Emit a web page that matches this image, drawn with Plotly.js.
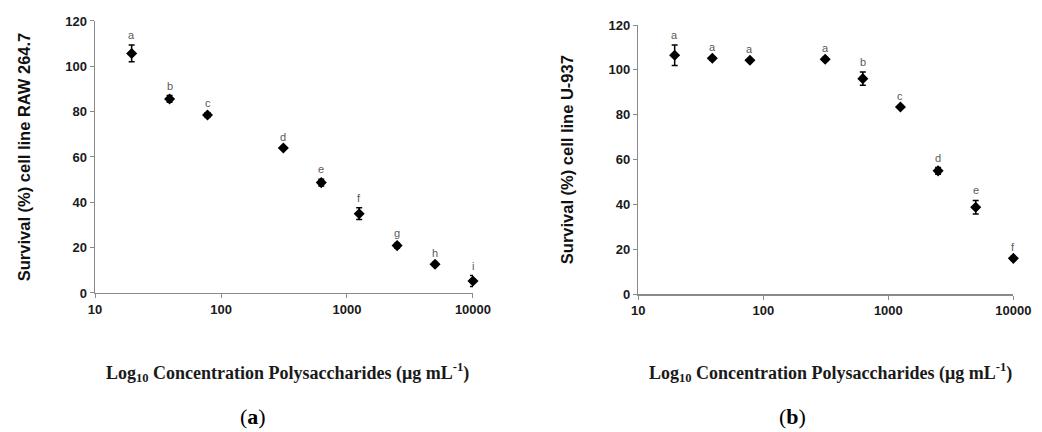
<!DOCTYPE html>
<html><head><meta charset="utf-8">
<script src="https://cdn.plot.ly/plotly-3.0.1.min.js"></script>
<style>html,body{margin:0;padding:0;background:#fff}#chart{width:1042px;height:432px}</style>
</head><body><div id="chart"></div>
<script>
// Concentrations (µg/mL)
const conc = [19.53, 39.06, 78.125, 312.5, 625, 1250, 2500, 5000, 10000];
// Panel (a) RAW 264.7
const rawSurvival = [105.7, 85.6, 78.5, 64.0, 48.7, 35.0, 20.9, 12.7, 5.3];
const rawError    = [3.7, 1.5, 1.0, 0.6, 1.5, 2.6, 1.0, 0.7, 2.4];
const rawLetters  = ['a','b','c','d','e','f','g','h','i'];
// Panel (b) U-937
const u937Survival = [106.5, 105.2, 104.3, 104.7, 96.1, 83.5, 55.0, 38.8, 16.0];
const u937Error    = [4.6, 0.6, 0.6, 0.8, 3.0, 0.6, 1.5, 3.0, 0.8];
const u937Letters  = ['a','a','a','a','b','c','d','e','f'];
const xTicks = [10, 100, 1000, 10000];
const yTicks = [0, 20, 40, 60, 80, 100, 120];

const tickFont = {family: 'Liberation Sans, Arial, sans-serif', size: 13, color: '#1a1a1a', weight: 'bold'};
function series(y, err, xa, ya) {
  return {
    type: 'scatter', mode: 'markers', x: conc, y: y, xaxis: xa, yaxis: ya, cliponaxis: false,
    marker: {symbol: 'diamond', size: 8.5, color: '#000'},
    error_y: {type: 'data', array: err, visible: true, color: '#000', thickness: 1.5, width: 3},
    showlegend: false, hoverinfo: 'x+y'
  };
}
function letterAnns(y, err, letters, xr, yr) {
  return letters.map((t, i) => ({
    x: Math.log10(conc[i]), y: y[i] + err[i], xref: xr, yref: yr,
    text: t, showarrow: false, yanchor: 'bottom', xanchor: 'center', yshift: 2,
    font: {family: 'Liberation Sans, Arial, sans-serif', size: 11, color: '#5a5a5a'}
  }));
}
const xaxisBase = {
  type: 'log', range: [1, 4], tickvals: xTicks, ticktext: xTicks.map(String),
  showgrid: false, zeroline: false, showline: true, linecolor: '#8a8a8a', linewidth: 1.5,
  ticks: 'outside', ticklen: 4, tickcolor: '#8a8a8a', tickwidth: 1, tickfont: tickFont
};
const yaxisBase = {
  range: [0, 120], tickvals: yTicks, showgrid: false, zeroline: false,
  showline: true, linecolor: '#8a8a8a', linewidth: 1.5,
  ticks: 'outside', ticklen: 4, tickcolor: '#8a8a8a', tickwidth: 1, tickfont: tickFont
};
const yTitleFont = {family: 'Liberation Sans, Arial, sans-serif', size: 16.5, color: '#111', weight: 'bold'};
const xTitleText = '<b>Log<sub>10</sub> Concentration Polysaccharides (μg mL<sup>-1</sup>)</b>';
const serif = 'Liberation Serif, Times New Roman, serif';

const layout = {
  width: 1042, height: 432, margin: {l: 0, r: 0, t: 0, b: 0},
  paper_bgcolor: '#fff', plot_bgcolor: '#fff',
  xaxis: Object.assign({}, xaxisBase, {domain: [0.0912, 0.4539], anchor: 'y'}),
  yaxis: Object.assign({}, yaxisBase, {domain: [0.3218, 0.9514], anchor: 'x',
    title: {text: 'Survival (%) cell line RAW 264.7', font: yTitleFont, standoff: 30}}),
  xaxis2: Object.assign({}, xaxisBase, {domain: [0.6126, 0.9725], anchor: 'y2'}),
  yaxis2: Object.assign({}, yaxisBase, {domain: [0.3188, 0.9421], anchor: 'x2',
    title: {text: 'Survival (%) cell line U-937', font: yTitleFont, standoff: 30}}),
  annotations: [].concat(
    letterAnns(rawSurvival, rawError, rawLetters, 'x', 'y'),
    letterAnns(u937Survival, u937Error, u937Letters, 'x2', 'y2'),
    [
      {xref: 'paper', yref: 'paper', x: 287/1042, y: 1 - 372/432, xanchor: 'center', yanchor: 'middle',
       text: xTitleText, showarrow: false, font: {family: serif, size: 18, color: '#1a1a1a'}},
      {xref: 'paper', yref: 'paper', x: 830/1042, y: 1 - 372/432, xanchor: 'center', yanchor: 'middle',
       text: xTitleText, showarrow: false, font: {family: serif, size: 18, color: '#1a1a1a'}},
      {xref: 'paper', yref: 'paper', x: 253/1042, y: 1 - 416/432, xanchor: 'center', yanchor: 'middle',
       text: '(<b>a</b>)', showarrow: false, font: {family: serif, size: 22, color: '#000'}},
      {xref: 'paper', yref: 'paper', x: 792/1042, y: 1 - 416/432, xanchor: 'center', yanchor: 'middle',
       text: '(<b>b</b>)', showarrow: false, font: {family: serif, size: 22, color: '#000'}}
    ]
  )
};
Plotly.newPlot('chart', [
  series(rawSurvival, rawError, 'x', 'y'),
  series(u937Survival, u937Error, 'x2', 'y2')
], layout, {staticPlot: true});
</script></body></html>
